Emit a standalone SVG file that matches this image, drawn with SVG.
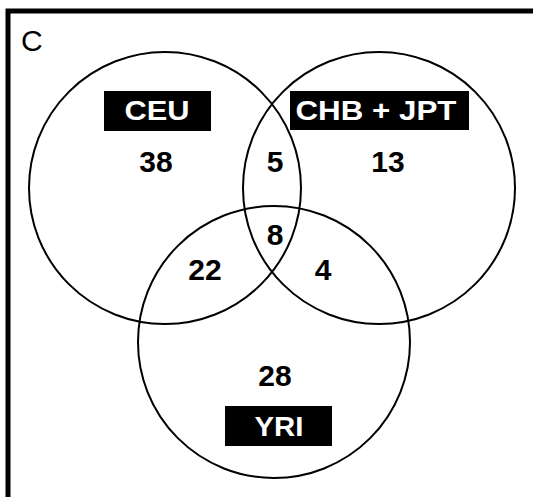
<svg xmlns="http://www.w3.org/2000/svg" width="533" height="497" viewBox="0 0 533 497">
<style>
.bg{fill:#fff}
.frame{fill:none;stroke:#000;stroke-width:5}
.set{fill:none;stroke:#000;stroke-width:2}
.num{font-family:"Liberation Sans",Arial,sans-serif;font-weight:bold;font-size:30px;fill:#000;text-anchor:middle}
.lab{font-family:"Liberation Sans",Arial,sans-serif;font-weight:bold;font-size:28px;fill:#fff;text-anchor:middle}
.labbox{fill:#000}
.panel{font-family:"Liberation Sans",Arial,sans-serif;font-size:30px;fill:#000}
</style>
<rect class="bg" x="0" y="0" width="533" height="497"/>
<rect class="frame" x="8" y="11" width="560" height="520"/>
<text class="panel" x="21" y="51">C</text>
<g id="CEU">
<circle class="set" cx="165" cy="188" r="136"/>
<rect class="labbox" x="104" y="91" width="107" height="40"/>
<text class="lab" x="157" y="120" textLength="65" lengthAdjust="spacingAndGlyphs">CEU</text>
</g>
<g id="CHB_JPT">
<circle class="set" cx="379" cy="188" r="136"/>
<rect class="labbox" x="290" y="91" width="179" height="39"/>
<text class="lab" x="376" y="120" textLength="161" lengthAdjust="spacingAndGlyphs">CHB + JPT</text>
</g>
<g id="YRI">
<circle class="set" cx="274" cy="342" r="136"/>
<rect class="labbox" x="225" y="406" width="107" height="40"/>
<text class="lab" x="279" y="436" textLength="49" lengthAdjust="spacingAndGlyphs">YRI</text>
</g>
<g id="counts">
<text class="num" x="156" y="172">38</text>
<text class="num" x="275" y="172">5</text>
<text class="num" x="388" y="172">13</text>
<text class="num" x="275" y="245">8</text>
<text class="num" x="205" y="280">22</text>
<text class="num" x="323" y="280">4</text>
<text class="num" x="275" y="386">28</text>
</g>
</svg>
